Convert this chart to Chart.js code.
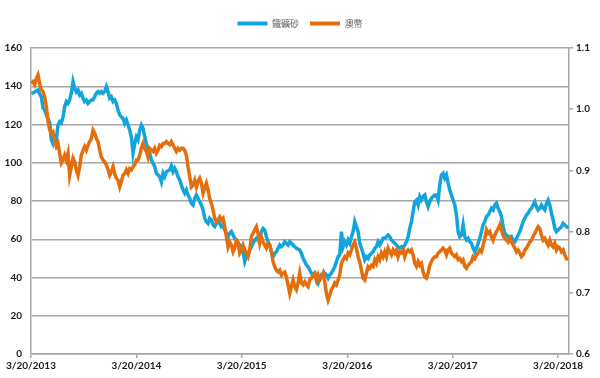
<!DOCTYPE html>
<html><head><meta charset="utf-8">
<script src="https://cdn.jsdelivr.net/npm/chart.js@4/dist/chart.umd.min.js"></script>
<style>html,body{margin:0;padding:0;background:#fff}#wrap{width:600px;height:378px}</style>
</head><body><div id="wrap"><canvas id="c" width="600" height="378"></canvas></div>
<script>
// ---- data ----
const seriesNames = ['鐵礦砂', '澳幣'];
const xTickLabels = ['3/20/2013', '3/20/2014', '3/20/2015', '3/20/2016', '3/20/2017', '3/20/2018'];
const xTickDays = [0, 365, 730, 1096, 1461, 1826];
const firstDay = 1.16;      // days after 3/20/2013 of first sample
const stepDays = 5.776;     // spacing between samples (days)
const lastAxisDay = 1864;

const ironOre = [
136.3,136.5,137,137.5,138,136,134.5,128.6,127.6,125,123,120.8,112,110,113.6,112,119.7,121.5,120.8,124,
129.3,132,131,132.8,136.5,142.4,139,137,138,135.4,136.3,133.7,132,132.8,131,132,132.8,132.8,134.5,136.3,
137.2,136.3,137.2,136.3,137.2,139.8,137.2,133.7,134.5,132,132.8,131,127.6,125,124,123.2,120.6,122.4,119.7,117,
113.6,105,110,113.6,112,117,119.7,118,113.6,110,106.7,105,101.4,99.7,98,94.5,93.6,92.7,90,94.5,92.7,
95.3,95.8,96.2,98.3,95.3,97.1,95.3,92.7,91,88.4,85.8,84,85.8,83.1,81.4,78.8,77.9,81.4,83.1,81.4,
79.6,77.9,75.3,71,69.2,68.3,71,70.1,67.5,66.6,68.3,69.2,68.3,66.6,67.5,64.8,63.1,61.3,63.1,64,
62.2,60.5,59.6,57.9,57,56.1,53.5,48.3,50.9,52.7,54.4,56.1,57.9,59.6,60.5,59.6,61.3,64,65.7,64.8,
61.3,58.7,57,53.5,50.9,52.7,53.5,55.3,57,56.1,57,58.7,57.9,57,58.7,57.9,57,56.1,55.3,54.8,54.4,
52.7,50,48.3,46.5,45.6,43.9,42.2,41.3,42.2,38.7,37,39.6,41.3,40.4,42.2,41.3,39.6,41.3,42.2,43.9,
45.6,48.3,50.9,51.8,64,56.1,58.7,57,59.6,57.9,61.3,64,69.2,66.6,64,57.9,55.3,52.7,49.2,50.9,
50,51.8,52.7,53.5,55.3,56.1,58.7,57,58.7,60.5,60.5,61.3,62.2,61.3,59.6,58.7,57.9,57,56.1,55.3,
56.1,55.3,57,58.7,61.3,65.7,69.2,74.4,79.6,80.5,77.9,82.3,80.5,82.3,83.1,79.6,77,79.6,81.4,82.3,83.1,
83.1,80.5,88.4,93.6,94.5,91.9,93.6,89.3,85.8,83.1,80.5,77.9,72.7,64,61.3,62.2,67.5,61.3,59.6,60.5,
58.7,57.9,55.3,53.5,55.3,57.9,60.5,64,67.5,69.2,71.8,72.7,74.4,76.2,75.3,77.9,78.8,76.2,74.4,71.8,
66.6,63.1,62.2,61.3,60.5,61.3,59.6,58.7,60.5,62.2,64,66.6,69.2,71,72.7,73.6,75.3,76.2,77.9,79.6,
77,75.3,76.2,77.9,76.2,75.3,78.8,80.5,77.9,73.6,70.1,65.7,64,64.8,65.7,66.6,68.3,67.5,66.6,65.7
];

const audUsd = [
1.042,1.045,1.040,1.050,1.056,1.042,1.031,1.029,1.020,1.004,0.980,0.966,0.961,0.963,0.950,0.939,0.944,0.928,0.912,0.917,
0.925,0.917,0.928,0.892,0.906,0.920,0.914,0.901,0.892,0.906,0.925,0.933,0.939,0.933,0.941,0.947,0.952,0.966,0.961,0.952,
0.947,0.933,0.922,0.917,0.914,0.909,0.901,0.892,0.898,0.906,0.895,0.887,0.884,0.873,0.882,0.892,0.895,0.901,0.895,0.903,
0.901,0.906,0.909,0.917,0.917,0.925,0.936,0.944,0.936,0.931,0.922,0.936,0.933,0.931,0.936,0.928,0.933,0.941,0.939,0.944,0.944,
0.947,0.944,0.942,0.947,0.942,0.936,0.931,0.936,0.933,0.936,0.936,0.933,0.925,0.906,0.890,0.873,0.876,0.884,0.873,0.882,
0.887,0.879,0.863,0.871,0.879,0.868,0.854,0.846,0.835,0.822,0.816,0.819,0.824,0.819,0.822,0.808,0.792,0.775,0.783,0.778,
0.767,0.773,0.786,0.783,0.765,0.770,0.778,0.770,0.765,0.759,0.770,0.792,0.797,0.803,0.808,0.797,0.781,0.792,0.783,0.778,
0.773,0.781,0.778,0.767,0.751,0.743,0.737,0.734,0.737,0.729,0.732,0.734,0.726,0.713,0.699,0.710,0.721,0.710,0.705,0.716,0.732,
0.716,0.713,0.718,0.713,0.710,0.721,0.724,0.729,0.732,0.721,0.729,0.721,0.726,0.732,0.718,0.699,0.688,0.696,0.705,0.710,
0.716,0.713,0.721,0.729,0.748,0.754,0.759,0.756,0.765,0.762,0.770,0.778,0.783,0.773,0.759,0.751,0.737,0.724,0.721,0.732,
0.743,0.740,0.745,0.743,0.754,0.748,0.759,0.754,0.765,0.759,0.767,0.759,0.773,0.767,0.762,0.770,0.765,0.770,0.759,0.767,
0.765,0.770,0.759,0.767,0.770,0.767,0.770,0.762,0.748,0.743,0.751,0.745,0.748,0.734,0.726,0.724,0.732,0.745,0.751,0.756,0.759,
0.759,0.765,0.767,0.770,0.773,0.770,0.762,0.770,0.773,0.765,0.762,0.759,0.762,0.754,0.756,0.751,0.754,0.743,0.740,0.745,
0.748,0.751,0.759,0.756,0.762,0.765,0.770,0.767,0.778,0.789,0.803,0.797,0.800,0.792,0.786,0.794,0.800,0.805,0.811,0.803,
0.794,0.789,0.786,0.783,0.789,0.783,0.778,0.773,0.767,0.770,0.765,0.759,0.762,0.770,0.773,0.778,0.783,0.786,0.792,0.797,
0.803,0.808,0.805,0.794,0.786,0.789,0.783,0.778,0.786,0.778,0.775,0.781,0.770,0.775,0.773,0.767,0.770,0.762,0.756,0.754
];

// ---- build points (x = days since 3/20/2013) ----
const ironPts = ironOre.map((v, i) => ({x: firstDay + i * stepDays, y: v}));
const audPts = audUsd.map((v, i) => ({x: firstDay + i * stepDays, y: v}));

const BLUE = '#12a4dc';
const ORANGE = '#e46e0c';
const GRID = '#a6a6a6';
const tickFont = {family: 'Lato, "DejaVu Sans", sans-serif', size: 10, weight: 'bold'};
const tickColor = '#1a1a1a';

const legendSpacer = {
  id: 'legendSpacer',
  beforeLayout(chart) {
    const lg = chart.legend;
    if (lg && !lg._spacerPatched) {
      const f = lg.fit.bind(lg);
      lg.fit = function () { f(); this.height += 10; };
      lg._spacerPatched = true;
    }
  }
};

new Chart(document.getElementById('c'), {
  type: 'line',
  data: {
    datasets: [
      {label: seriesNames[0], data: ironPts, yAxisID: 'y', borderColor: BLUE, backgroundColor: BLUE,
       borderWidth: 3.5, pointRadius: 0, tension: 0, order: 2},
      {label: seriesNames[1], data: audPts, yAxisID: 'y1', borderColor: ORANGE, backgroundColor: ORANGE,
       borderWidth: 3.5, pointRadius: 0, tension: 0, order: 1}
    ]
  },
  options: {
    responsive: false,
    animation: false,
    devicePixelRatio: 1,
    layout: {padding: {top: 8, left: 0, right: 0, bottom: 0}},
    plugins: {
      tooltip: {enabled: false},
      legend: {
        position: 'top',
        labels: {
          boxWidth: 30, boxHeight: 4, padding: 11,
          font: {family: '"Noto Sans CJK TC", sans-serif', size: 9},
          color: '#595959',
          sort: (a, b) => a.datasetIndex - b.datasetIndex,
          generateLabels: (chart) => chart.data.datasets.map((d, i) => ({
            text: d.label, fillStyle: d.borderColor, strokeStyle: d.borderColor,
            lineWidth: 0, hidden: false, datasetIndex: i, fontColor: '#595959'
          }))
        }
      }
    },
    scales: {
      x: {
        type: 'linear', min: 0, max: lastAxisDay,
        afterBuildTicks: (s) => { s.ticks = xTickDays.map(v => ({value: v})); },
        afterFit: (s) => { s.height = 24; },
        ticks: {autoSkip: false, maxRotation: 0, padding: 2, font: tickFont, color: tickColor,
                callback: (v, i) => xTickLabels[i]},
        grid: {drawOnChartArea: false, drawTicks: true, tickLength: 4, color: GRID, lineWidth: 1.5},
        border: {display: true, color: GRID, width: 1.5}
      },
      y: {
        position: 'left', min: 0, max: 160,
        afterFit: (s) => { s.width = 31; },
        ticks: {stepSize: 20, padding: 9, font: tickFont, color: tickColor},
        grid: {color: GRID, lineWidth: 1.5, drawTicks: false},
        border: {display: true, color: GRID, width: 1.5}
      },
      y1: {
        position: 'right', min: 0.6, max: 1.1,
        afterFit: (s) => { s.width = 31; },
        ticks: {stepSize: 0.1, padding: 3, font: tickFont, color: tickColor},
        grid: {drawOnChartArea: false, drawTicks: true, tickLength: 4, color: GRID, lineWidth: 1.5},
        border: {display: true, color: GRID, width: 1.5}
      }
    }
  },
  plugins: [legendSpacer]
});
</script></body></html>
